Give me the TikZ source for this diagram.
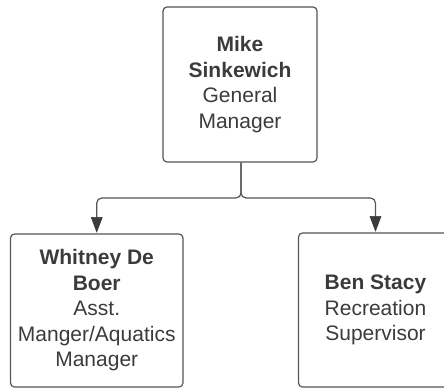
\documentclass[tikz,border=0pt]{standalone}
\usepackage{fontspec}
\setmainfont{Liberation Sans}
\usetikzlibrary{arrows.meta}
\definecolor{inkgray}{HTML}{3B3B3B}
\definecolor{edgegray}{HTML}{555555}
\begin{document}
\begin{tikzpicture}[x=1pt,y=-1pt,
  orgbox/.style={draw=edgegray, line width=1.2pt, rounded corners=4pt,
    align=center, text=inkgray, inner sep=0pt,
    font=\fontsize{21}{25.5}\selectfont},
  conn/.style={draw=edgegray, line width=1.2pt},
  conntip/.style={draw=inkgray, fill=inkgray, line width=0.6pt}]
  \useasboundingbox (0,0) rectangle (444,388);
  % general manager
  \node[orgbox, minimum width=154pt, minimum height=155pt] (gm) at (240,84.5)
    {\textbf{Mike}\\\textbf{Sinkewich}\\General\\Manager};
  % direct reports
  \node[orgbox, minimum width=172.5pt, minimum height=153pt] (aq) at (96.75,310.5)
    {\textbf{Whitney De}\\\textbf{Boer}\\Asst.\\Manger/Aquatics\\Manager};
  \node[orgbox, minimum width=154pt, minimum height=154pt] (rec) at (375.5,310)
    {\textbf{Ben Stacy}\\Recreation\\Supervisor};
  % reporting lines: rounded elbows, filled triangular heads
  \coordinate (split) at (241,198);
  \foreach \r in {aq,rec}{
    \draw[conn, rounded corners=5pt] (gm.south -| split) -- (split)
      -| ([yshift=14pt]\r.north);
    \draw[conntip] ([xshift=-5.5pt,yshift=16pt]\r.north)
      -- ([xshift=5.5pt,yshift=16pt]\r.north) -- ([yshift=1.5pt]\r.north) -- cycle;
  }
\end{tikzpicture}
\end{document}
